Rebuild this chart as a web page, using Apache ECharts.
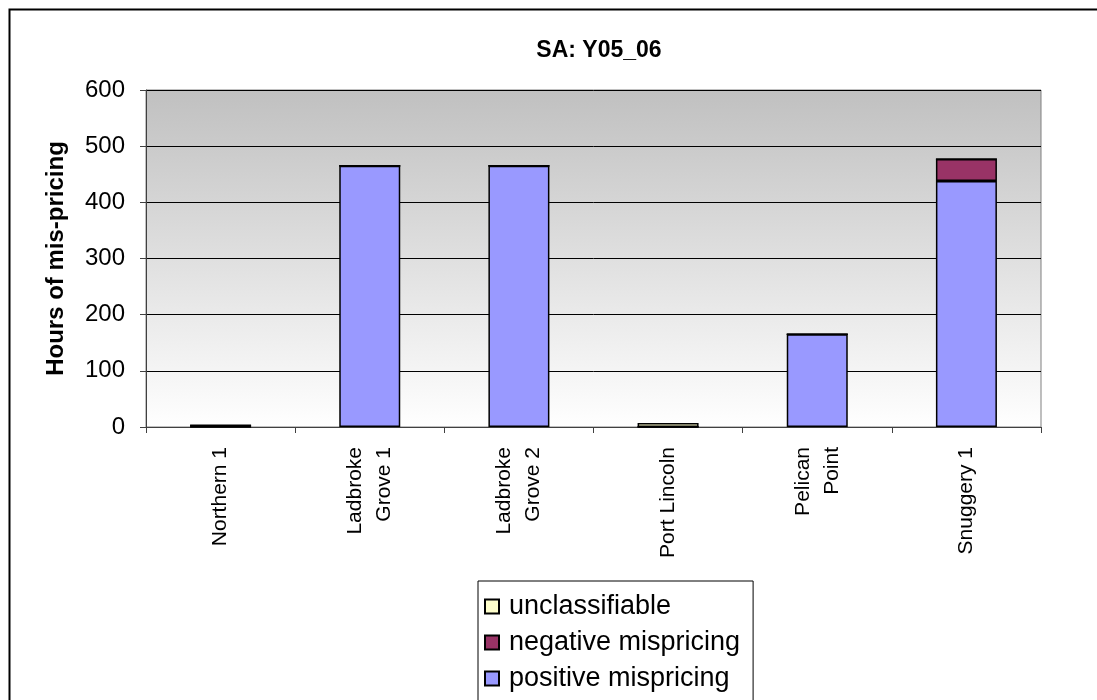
<!DOCTYPE html>
<html><head><meta charset="utf-8">
<script src="https://cdn.jsdelivr.net/npm/echarts@6/dist/echarts.min.js"></script>
<style>html,body{margin:0;padding:0;background:#fff}#c{width:1097px;height:700px}</style>
</head><body><div id="c"></div>
<script>
const categories = ['Northern 1', 'Ladbroke\nGrove 1', 'Ladbroke\nGrove 2', 'Port Lincoln', 'Pelican\nPoint', 'Snuggery 1'];
const positiveMispricing = [0, 465, 465, 0, 165, 438];
const negativeMispricing = [3, 0, 0, 0, 0, 39];
const unclassifiable = [0, 0, 0, 7, 0, 0];
const yTicks = { min: 0, max: 600, interval: 100 };
const legendOrder = ['unclassifiable', 'negative mispricing', 'positive mispricing'];

const font = 'Liberation Sans, Arial, sans-serif';
const chart = echarts.init(document.getElementById('c'));
function bar(name, data, color) {
  return { name: name, type: 'bar', stack: 'total', barWidth: 61, data: data,
    itemStyle: { color: color, borderColor: '#000', borderWidth: 1.5 } };
}
chart.setOption({
  animation: false,
  textStyle: { fontFamily: font },
  graphic: [{ type: 'rect', left: 7, top: 7, shape: { width: 1100, height: 720 },
    style: { fill: 'none', stroke: '#000', lineWidth: 2 }, silent: true }],
  title: { text: 'SA: Y05_06', left: 594, textAlign: 'center', top: 34,
    textStyle: { fontFamily: font, fontWeight: 'bold', fontSize: 23, color: '#000' } },
  grid: { left: 146, right: 56, top: 90, bottom: 273, show: true,
    borderColor: '#808080', borderWidth: 1,
    backgroundColor: new echarts.graphic.LinearGradient(0, 0, 0, 1, [
      { offset: 0, color: '#c0c0c0' }, { offset: 1, color: '#ffffff' }]) },
  legend: {
    orient: 'vertical', left: 478, top: 581, height: 120,
    data: legendOrder,
    icon: 'rect', itemWidth: 14, itemHeight: 14, itemGap: 9,
    padding: [12, 13, 24, 6], borderColor: '#000', borderWidth: 1,
    textStyle: { fontFamily: font, fontSize: 27, color: '#000', padding: [0, 0, 0, 5] }
  },
  xAxis: {
    type: 'category', data: categories, boundaryGap: true,
    axisLine: { lineStyle: { color: '#404040', width: 1 } },
    axisTick: { show: true, length: 6, inside: false, lineStyle: { color: '#404040' } },
    axisLabel: { rotate: 90, interval: 0, margin: 20, fontFamily: font, fontSize: 21, color: '#000', lineHeight: 29 }
  },
  yAxis: {
    type: 'value', min: yTicks.min, max: yTicks.max, interval: yTicks.interval,
    name: 'Hours of mis-pricing', nameLocation: 'middle', nameGap: 78,
    nameTextStyle: { fontFamily: font, fontWeight: 'bold', fontSize: 24, color: '#000' },
    axisLine: { show: true, lineStyle: { color: '#404040', width: 1 } },
    axisTick: { show: true, length: 6, lineStyle: { color: '#404040' } },
    axisLabel: { fontFamily: font, fontSize: 24, color: '#000', margin: 21 },
    splitLine: { show: true, lineStyle: { color: '#000', width: 1 } }
  },
  series: [
    bar('positive mispricing', positiveMispricing, '#9999ff'),
    bar('negative mispricing', negativeMispricing, '#993366'),
    bar('unclassifiable', unclassifiable, '#ffffcc')
  ]
});
</script></body></html>
